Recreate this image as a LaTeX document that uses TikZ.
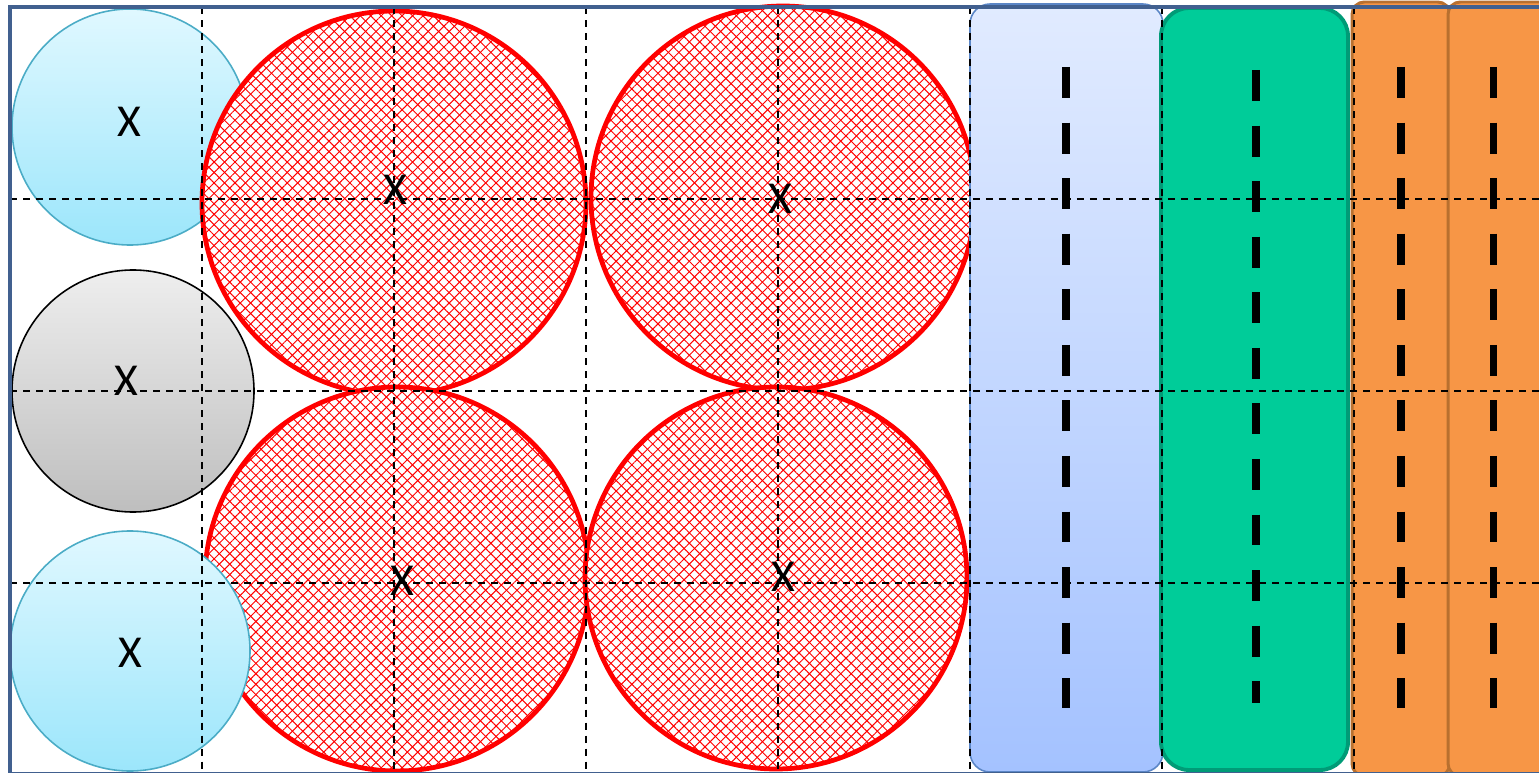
\documentclass[tikz,border=0pt]{standalone}
\usepackage{fontspec}
\setmainfont{Carlito}
\usetikzlibrary{patterns.meta}

\definecolor{frameblue}{HTML}{41608F}
\definecolor{cyanedge}{HTML}{4BACC6}
\definecolor{cyantop}{HTML}{E0F8FF}
\definecolor{cyanbot}{HTML}{9CE6FB}
\definecolor{graytop}{HTML}{EEEEEE}
\definecolor{graybot}{HTML}{BEBEBE}
\definecolor{bluetop}{HTML}{E1EBFF}
\definecolor{bluebot}{HTML}{A4C2FF}
\definecolor{blueedge}{HTML}{5B86C6}
\definecolor{greenfill}{HTML}{00CC99}
\definecolor{greenedge}{HTML}{009B77}
\definecolor{orangefill}{HTML}{F79646}
\definecolor{orangeedge}{HTML}{B8702F}

\begin{document}
\begin{tikzpicture}[
  x=0.01cm, y=-0.01cm,
  font=\fontsize{13}{15}\selectfont,
  cyanball/.style={draw=cyanedge, line width=0.45pt, top color=cyantop, bottom color=cyanbot},
  grayball/.style={draw=black, line width=0.45pt, top color=graytop, bottom color=graybot},
  redball/.style={draw=red, line width=1.35pt,
    preaction={fill=white},
    preaction={pattern={Lines[angle=45, distance=2.1pt, line width=0.28pt]}, pattern color=red},
    pattern={Lines[angle=-45, distance=2.1pt, line width=0.28pt]}, pattern color=red},
  bluebar/.style={draw=blueedge, line width=0.45pt, rounded corners=5.7pt, top color=bluetop, bottom color=bluebot},
  greenbar/.style={draw=greenedge, line width=1.1pt, rounded corners=8pt, fill=greenfill},
  orangebar/.style={draw=orangeedge, line width=0.85pt, rounded corners=3.5pt, fill=orangefill},
  grid/.style={draw=black, line width=0.45pt, dash pattern=on 2pt off 1.7pt},
  slot/.style={draw=black, line width=2pt, dash pattern=on 8.8pt off 7pt},
  frame/.style={draw=frameblue, line width=1.1pt}
]
\useasboundingbox (0,0) rectangle (1539,773);

% balls on the left (top and middle lie under the hatched ones)
\draw[cyanball] (130,127) circle[radius=118];
\draw[grayball] (133,391) circle[radius=121];

% hatched balls
\draw[redball] (394,203) circle[radius=192];
\draw[redball] (783,198) circle[radius=192];
\draw[redball] (397,579) circle[radius=192];
\draw[redball] (776,578) circle[radius=191];

% bottom ball lies over the hatched one
\draw[cyanball] (130,651) circle[radius=120];

% bars on the right
\draw[bluebar] (970,4) rectangle (1163,772);
\draw[greenbar] (1161,8) rectangle (1348,770);
\draw[orangebar] (1352,2) rectangle (1450,776);
\draw[orangebar] (1448,2) rectangle (1552,776);

% grid
\foreach \x in {202,394,...,1354}
  \draw[grid] (\x,7) -- (\x,773);
\foreach \y in {199,391,583}
  \draw[grid] (10,\y) -- (1539,\y);

% slots in the bars
\foreach \x/\a/\b in {1066/67/708, 1256/70/703, 1401/67/708, 1493/67/708}
  \draw[slot] (\x,\a) -- (\x,\b);

% labels
\node (xa) at (129,122) {X};
\node (xb) at (126,381) {X};
\node (xc) at (130,653) {X};
\node (xd) at (395,190) {X};
\node (xe) at (780,199) {X};
\node (xf) at (402,581) {X};
\node (xg) at (783,577) {X};

% outer frame
\draw[frame] (10,7) rectangle (1546,774);
\end{tikzpicture}
\end{document}
